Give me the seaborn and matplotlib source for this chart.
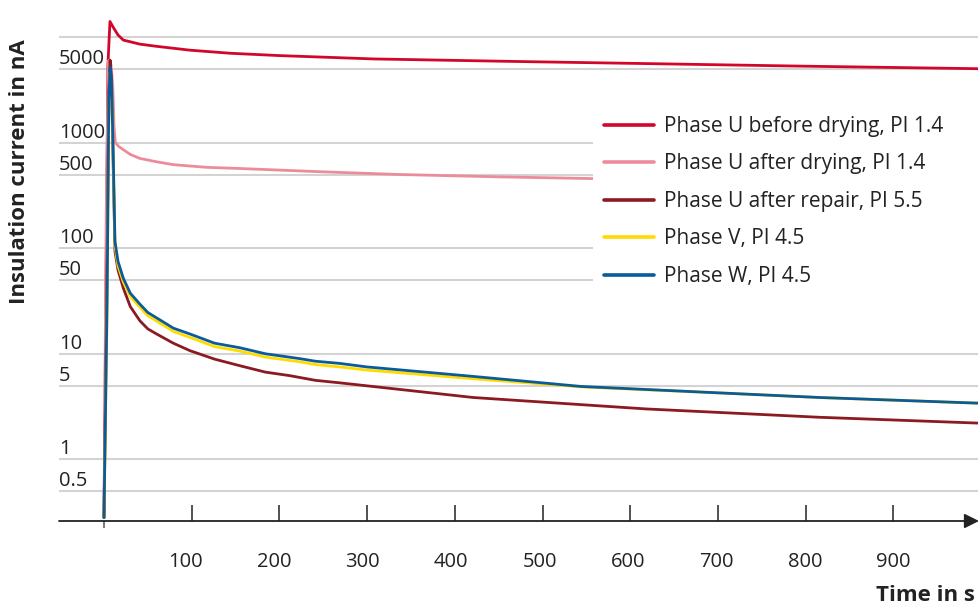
import numpy as np
import pandas as pd
import matplotlib
matplotlib.use("Agg")
import matplotlib.pyplot as plt
import matplotlib.transforms as mtransforms
from matplotlib.patches import Rectangle
from matplotlib.ticker import NullLocator, FixedLocator
import seaborn as sns

# ---------------- data ----------------
t_before = [0, 4.5, 6.8, 10.6, 16, 22, 41, 60, 98, 144, 200, 307, 471, 634, 797, 998]
i_before = [0.28, 5500, 14100, 12400, 10500, 9400, 8600, 8200, 7540, 7050, 6700, 6230, 5890, 5600, 5320, 5030]

t_dried = [0, 2.5, 5, 8, 10, 11.5, 13, 17, 22, 30, 41, 60, 79, 117, 155, 250, 337, 450, 560]
i_dried = [0.28, 200, 6000, 5500, 3500, 1400, 1000, 920, 860, 775, 710, 660, 620, 585, 570, 530, 500, 475, 457]

t_repair = [0, 3, 5.5, 7, 8.5, 10.5, 12.5, 16, 22, 30, 41, 50, 60, 79, 98, 126, 155, 184, 212, 241, 269, 421, 618, 816, 998]
i_repair = [0.28, 30, 3000, 6060, 4000, 600, 94, 62, 42, 28, 20.5, 17.2, 15.4, 12.6, 10.7, 8.9, 7.7, 6.7, 6.2, 5.6, 5.3, 3.85, 3.0, 2.5, 2.2]

t_vw = [0, 3.5, 5.5, 7, 8.5, 10.5, 12.5, 16, 22, 30, 41, 50, 60, 79, 98, 126, 155, 184, 223, 241, 269, 300, 421, 544, 717, 816, 998]
i_v = [0.28, 25, 2200, 4700, 3600, 700, 105, 68, 48, 35, 27.5, 22.9, 20.4, 16.3, 14.3, 11.7, 10.6, 9.3, 8.4, 7.9, 7.5, 7.0, 5.8, 4.85, 4.2, 3.85, 3.4]
i_w = [0.28, 30, 2500, 5200, 4000, 800, 116, 75, 52, 37.5, 29.5, 24.6, 21.9, 17.5, 15.4, 12.6, 11.4, 10.0, 9.0, 8.5, 8.1, 7.5, 6.1, 4.9, 4.2, 3.85, 3.4]

series_names = ["Phase U before drying, PI 1.4", "Phase U after drying, PI 1.4",
                "Phase U after repair, PI 5.5", "Phase V, PI 4.5", "Phase W, PI 4.5"]
series_t = [t_before, t_dried, t_repair, t_vw, t_vw]
series_i = [i_before, i_dried, i_repair, i_v, i_w]
series_colors = ["#d2062a", "#ec8c9a", "#8c1a22", "#ffdc00", "#0a5b98"]

ytick_vals = [0.5, 1, 5, 10, 50, 100, 500, 1000, 5000, 10000]
ytick_labels = ["0.5", "1", "5", "10", "50", "100", "500", "1000", "5000", ""]
xtick_vals = [100, 200, 300, 400, 500, 600, 700, 800, 900]

# ---------------- style ----------------
sns.set_theme(style="white")
plt.rcParams["font.family"] = ["Open Sans", "DejaVu Sans"]
TXT = "#222222"
FS = 14.5

W, H = 979, 608
fig = plt.figure(figsize=(W / 100, H / 100), dpi=100)
ax = fig.add_axes([59 / W, (H - 521) / H, (W - 59) / W, 521 / H])

for name, tt, ii, col in zip(series_names, series_t, series_i, series_colors):
    df = pd.DataFrame({"t": tt, "i": ii})
    sns.lineplot(data=df, x="t", y="i", color=col, lw=2.0, label=name,
                 estimator=None, sort=False, ax=ax, legend=False)

ax.set_yscale("log")
ax.set_ylim(0.26, 22540)
ax.set_xlim(-51.3, 997.7)

for s in ax.spines.values():
    s.set_visible(False)

# grid
ax.set_yticks(ytick_vals, ytick_labels)
ax.yaxis.set_minor_locator(NullLocator())
ax.grid(axis="y", color="#d3d3d3", lw=1.5)
ax.grid(axis="x", visible=False)
ax.tick_params(axis="y", length=0, pad=0, labelsize=FS, labelcolor=TXT)
for lab in ax.get_yticklabels():
    lab.set_horizontalalignment("left")
    lab.set_verticalalignment("bottom")

# x ticks
ax.set_xticks(xtick_vals, [str(v) for v in xtick_vals])
ax.xaxis.set_minor_locator(FixedLocator([0]))
ax.tick_params(axis="x", which="major", direction="in", length=11.5, width=1.1,
               color="#222222", pad=22, labelsize=FS, labelcolor=TXT, bottom=True)
ax.tick_params(axis="x", which="minor", direction="out", length=5, width=1.1,
               color="#555555", bottom=True)
for v, lab in zip(xtick_vals, ax.get_xticklabels()):
    dx = -6 * (900 - v) / 800
    off = mtransforms.ScaledTranslation(dx / 100, 0, fig.dpi_scale_trans)
    lab.set_transform(lab.get_transform() + off)
ax.set_xlabel("")
ax.set_ylabel("")

# x axis line with arrow
ax.annotate("", xy=(1.0, 0), xytext=(0, 0), xycoords="axes fraction",
            textcoords="axes fraction",
            arrowprops=dict(arrowstyle="-|>", color="#222222", lw=1.3,
                            mutation_scale=22, shrinkA=0, shrinkB=0),
            annotation_clip=False, zorder=6)

# white panel behind legend
ax.add_patch(Rectangle((593 / W, 1 - 300 / H), 1 - 593 / W, 205 / H,
                       transform=fig.transFigure, facecolor="white",
                       edgecolor="none", zorder=4, clip_on=False))

handles = ax.get_lines()[:len(series_names)]
leg = fig.legend(handles, series_names, loc="upper left",
                 bbox_to_anchor=(604 / W, 1 - 116 / H), bbox_transform=fig.transFigure,
                 frameon=False, fontsize=15, handlelength=2.4, handletextpad=0.48,
                 labelspacing=0.79, borderpad=0, borderaxespad=0)
for ln in leg.get_lines():
    ln.set_linewidth(2.6)
for tx in leg.get_texts():
    tx.set_color(TXT)
leg.set_zorder(7)

fig.text(20 / W, 1 - 172 / H, "Insulation current in nA", rotation=90,
         ha="center", va="center", fontsize=16, fontweight="bold", color=TXT)
fig.text(876 / W, 1 - 601 / H, "Time in s", ha="left", va="baseline",
         fontsize=16, fontweight="bold", color=TXT)

fig.savefig("out.png", dpi=100)
